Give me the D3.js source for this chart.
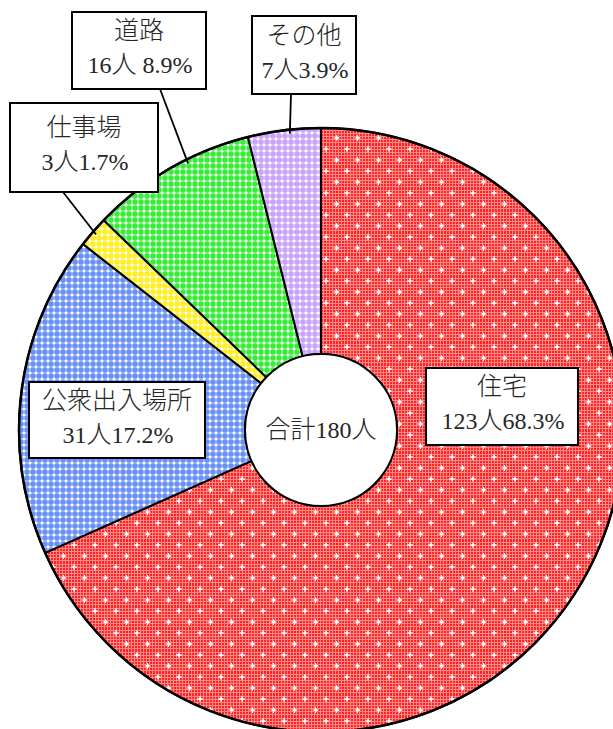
<!DOCTYPE html>
<html>
<head>
<meta charset="utf-8">
<script src="https://cdn.jsdelivr.net/npm/d3@7"></script>
<style>
  body { margin: 0; background: #fff; }
  svg text { font-family: "Liberation Serif", "Noto Sans CJK JP", serif; fill: #262626; }
  svg text .cjk { font-family: "Noto Sans CJK JP", sans-serif; font-weight: 300; }
</style>
</head>
<body>
<svg id="chart" width="613" height="729"></svg>
<script>
// data
var categories = ["住宅", "公衆出入場所", "仕事場", "道路", "その他"];
var counts     = [123, 31, 3, 16, 7];
var valueLabels = ["123人68.3%", "31人17.2%", "3人1.7%", "16人 8.9%", "7人3.9%"];
var totalLabel = "合計180人";

// layout of the label boxes (left, top, width, height, leader start x, leader angle shift)
var boxes = [
    {x: 426, y: 368, w: 152, h: 77, lead: null},
    {x: 29,  y: 382, w: 176, h: 76, lead: null},
    {x: 10,  y: 103, w: 148, h: 89, lead: 63,  shift: 0},
    {x: 72,  y: 12,  w: 134, h: 77, lead: 160, shift: 3.5},
    {x: 252, y: 16,  w: 104, h: 78, lead: 291, shift: 1}
];

var svg = d3.select("#chart")
    , cx = 321
    , cy = 430
    , outerR = 302
    , innerR = 76
    , defs = svg.append("defs")
    ;

// fill patterns, excel-like
function latticePattern(id, base) {
    var p = defs.append("pattern")
        .attr("id", id)
        .attr("patternUnits", "userSpaceOnUse")
        .attr("width", 6).attr("height", 6);
    p.append("rect").attr("width", 6).attr("height", 6).attr("fill", base);
    p.append("rect").attr("x", 2.5).attr("y", 0.5).attr("width", 1).attr("height", 5).attr("fill", "#fff");
    p.append("rect").attr("x", 0.5).attr("y", 2.5).attr("width", 5).attr("height", 1).attr("fill", "#fff");
    p.append("rect").attr("x", 2).attr("y", 2).attr("width", 2).attr("height", 2).attr("fill", "#fff");
}

var dotR = defs.append("pattern")
    .attr("id", "dotR")
    .attr("patternUnits", "userSpaceOnUse")
    .attr("width", 3).attr("height", 3);
dotR.append("rect").attr("width", 3).attr("height", 3).attr("fill", "#ff8a8a");
dotR.append("rect").attr("width", 2).attr("height", 2).attr("fill", "#ff2424");

var redP = defs.append("pattern")
    .attr("id", "patRed")
    .attr("patternUnits", "userSpaceOnUse")
    .attr("width", 21).attr("height", 22);
redP.append("rect").attr("width", 21).attr("height", 22).attr("fill", "url(#dotR)");
[[5, 5], [15.5, 16]].forEach(function(c) {
    redP.append("rect").attr("x", c[0] - 3).attr("y", c[1] - 0.5).attr("width", 6).attr("height", 1).attr("fill", "#fff");
    redP.append("rect").attr("x", c[0] - 0.5).attr("y", c[1] - 3).attr("width", 1).attr("height", 6).attr("fill", "#fff");
    redP.append("rect").attr("x", c[0] - 1.5).attr("y", c[1] - 1).attr("width", 3).attr("height", 2).attr("fill", "#fff");
    redP.append("rect").attr("x", c[0] - 1).attr("y", c[1] - 1.5).attr("width", 2).attr("height", 3).attr("fill", "#fff");
});

latticePattern("patBlue", "#6890f6");
latticePattern("patYellow", "#ffee22");
latticePattern("patGreen", "#38ec38");
latticePattern("patPurple", "#c9a3fb");

var fills = ["url(#patRed)", "url(#patBlue)", "url(#patYellow)", "url(#patGreen)", "url(#patPurple)"];

var pie = d3.pie().sort(null).value(function(d) { return d; });
var arcs = pie(counts);

var arc = d3.arc().innerRadius(innerR).outerRadius(outerR);

var g = svg.append("g").attr("transform", "translate(" + cx + "," + cy + ")");

g.selectAll("path.slice")
    .data(arcs)
    .enter().append("path")
    .attr("class", "slice")
    .attr("d", arc)
    .attr("fill", function(d, i) { return fills[i]; })
    .attr("stroke", "#000")
    .attr("stroke-width", 2)
    .attr("stroke-linejoin", "round");

g.append("circle").attr("r", outerR).attr("fill", "none").attr("stroke", "#000").attr("stroke-width", 2.5);

g.append("circle").attr("r", innerR).attr("fill", "#fff").attr("stroke", "#000").attr("stroke-width", 2);

// split a label into CJK and latin runs, CJK drawn a little larger
function runs(sel, str) {
    var parts = str.match(/[\u3000-\u9fff]+|[^\u3000-\u9fff]+/g);
    parts.forEach(function(p) {
        var cjk = /[\u3000-\u9fff]/.test(p);
        sel.append("tspan")
            .attr("class", cjk ? "cjk" : null)
            .style("font-size", cjk ? "25px" : "24px")
            .text(p);
    });
}

g.append("text")
    .attr("text-anchor", "middle")
    .attr("dy", "0.35em")
    .attr("y", 2)
    .call(runs, totalLabel);

// leader lines
arcs.forEach(function(d, i) {
    var b = boxes[i];
    if (b.lead == null) return;
    var a = (d.startAngle + d.endAngle) / 2 + (b.shift || 0) * Math.PI / 180
        , r = outerR - 4
        ;
    svg.append("line")
        .attr("x1", b.lead).attr("y1", b.y + b.h)
        .attr("x2", cx + r * Math.sin(a)).attr("y2", cy - r * Math.cos(a))
        .attr("stroke", "#000")
        .attr("stroke-width", 1.8);
});

// label boxes
var lab = svg.selectAll("g.label")
    .data(boxes)
    .enter().append("g")
    .attr("class", "label")
    .attr("transform", function(b) { return "translate(" + b.x + "," + b.y + ")"; });

lab.append("rect")
    .attr("width", function(b) { return b.w; })
    .attr("height", function(b) { return b.h; })
    .attr("fill", "#fff")
    .attr("stroke", "#000")
    .attr("stroke-width", 2);

lab.append("text")
    .attr("x", function(b) { return b.w / 2; })
    .attr("y", function(b) { return b.h / 2 - 17; })
    .attr("dy", "0.35em")
    .attr("text-anchor", "middle")
    .each(function(b, i) { runs(d3.select(this), categories[i]); });

lab.append("text")
    .attr("x", function(b) { return b.w / 2 + 1; })
    .attr("y", function(b) { return b.h / 2 + 17; })
    .attr("dy", "0.35em")
    .attr("text-anchor", "middle")
    .each(function(b, i) { runs(d3.select(this), valueLabels[i]); });
</script>
</body>
</html>
